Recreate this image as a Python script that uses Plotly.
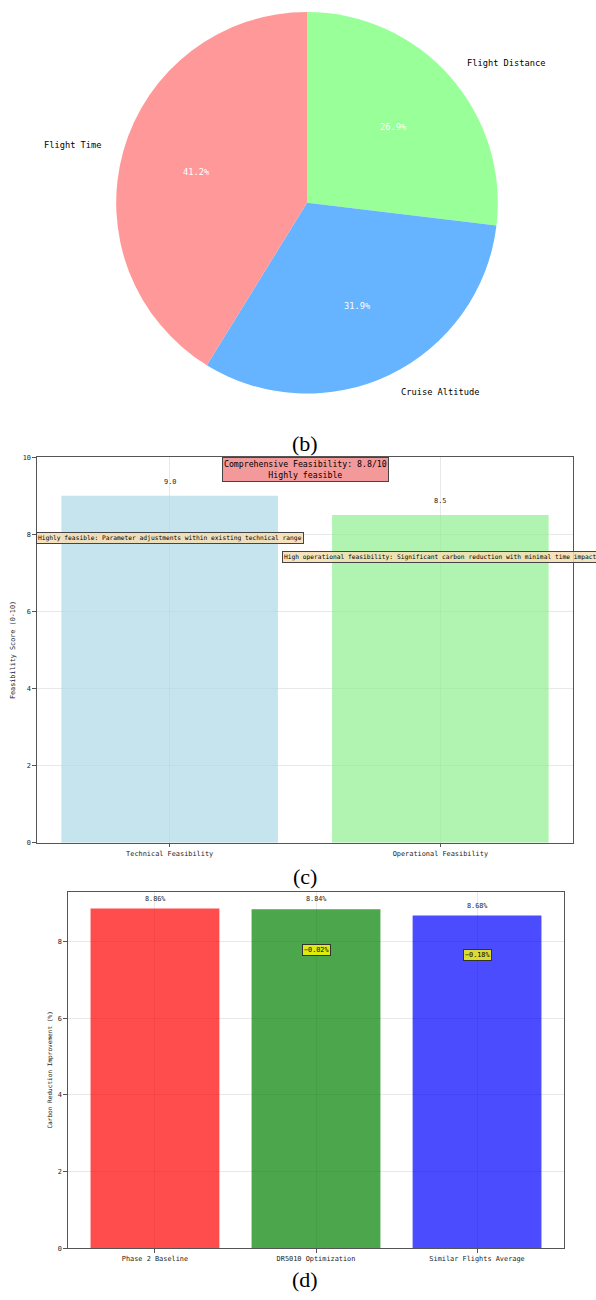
import math
import plotly.graph_objects as go

# ---- data (wedges listed clockwise from 12 o'clock) ----
pie_labels = ["Flight Distance", "Cruise Altitude", "Flight Time"]
pie_values = [26.9, 31.9, 41.2]

feas_categories = ["Technical Feasibility", "Operational Feasibility"]
feas_scores = [9.0, 8.5]
feas_notes = [
    "Highly feasible: Parameter adjustments within existing technical range",
    "High operational feasibility: Significant carbon reduction with minimal time impact",
]
overall_score = 8.8
overall_verdict = "Highly feasible"

carbon_categories = ["Phase 2 Baseline", "DR5010 Optimization", "Similar Flights Average"]
carbon_values = [8.86, 8.84, 8.68]

# ---- styling ----
W, H = 596, 1300
MONO = "DejaVu Sans Mono"
SERIF = "Liberation Serif"
pie_colors = ["#99ff99", "#66b3ff", "#ff9999"]
feas_colors = ["rgba(173,216,230,0.7)", "rgba(144,238,144,0.7)"]
carbon_colors = ["rgba(255,0,0,0.7)", "rgba(0,128,0,0.7)", "rgba(0,0,255,0.7)"]
GRID = "rgba(0,0,0,0.09)"
SPINE = "#555555"
TXT = "#222222"

# pie geometry (pixels)
PIE_CX, PIE_CY, PIE_R = 307, 200, 192


def px_x(x):
    return x / W


def px_y(y):
    return 1 - y / H


fig = go.Figure()

fig.add_trace(go.Pie(
    labels=pie_labels, values=pie_values, sort=False,
    direction="clockwise", rotation=0,
    marker=dict(colors=pie_colors, line=dict(width=0)),
    textinfo="none", hoverinfo="skip", showlegend=False,
    domain=dict(x=[px_x(PIE_CX - PIE_R), px_x(PIE_CX + PIE_R)],
                y=[px_y(PIE_CY + PIE_R), px_y(PIE_CY - PIE_R)]),
))

fig.add_trace(go.Bar(
    x=feas_categories, y=feas_scores, width=0.8,
    marker=dict(color=feas_colors, line=dict(width=0)),
    xaxis="x", yaxis="y", showlegend=False, hoverinfo="skip",
))

fig.add_trace(go.Bar(
    x=carbon_categories, y=carbon_values, width=0.8,
    marker=dict(color=carbon_colors, line=dict(width=0)),
    xaxis="x2", yaxis="y2", showlegend=False, hoverinfo="skip",
))

annotations = []

# pie labels placed along each wedge's mid-angle (clockwise from the top)
total = sum(pie_values)
cum = 0.0
for lab, val in zip(pie_labels, pie_values):
    mid = math.radians(90 - 360 * (cum + val / 2) / total)
    cum += val
    c, s = math.cos(mid), math.sin(mid)
    lx, ly = PIE_CX + 1.1 * PIE_R * c, PIE_CY - 1.1 * PIE_R * s
    annotations.append(dict(
        x=px_x(lx), y=px_y(ly), xref="paper", yref="paper",
        text=lab, showarrow=False,
        xanchor="left" if c > 0 else "right", yanchor="middle",
        font=dict(family=MONO, size=8.7, color="black"),
    ))
    tx, ty = PIE_CX + 0.6 * PIE_R * c, PIE_CY - 0.6 * PIE_R * s
    annotations.append(dict(
        x=px_x(tx), y=px_y(ty), xref="paper", yref="paper",
        text=f"{val / total * 100:.1f}%", showarrow=False,
        xanchor="center", yanchor="middle",
        font=dict(family=MONO, size=8.7, color="white"),
    ))

# feasibility panel labels
for cat, sc, note in zip(feas_categories, feas_scores, feas_notes):
    annotations.append(dict(
        x=cat, y=sc + 0.2, xref="x", yref="y", text=f"{sc:.1f}",
        showarrow=False, yanchor="bottom",
        font=dict(family=MONO, size=6.9, color=TXT),
    ))
    annotations.append(dict(
        x=cat, y=sc - 1.1, xref="x", yref="y", text=note,
        showarrow=False, xanchor="center", yanchor="middle",
        font=dict(family=MONO, size=6.25, color="black"),
        bgcolor="rgba(245,222,179,0.85)", bordercolor="#444",
        borderwidth=1, borderpad=1,
    ))

annotations.append(dict(
    x=0.5, y=1.0, xref="x domain", yref="y domain",
    text=f"Comprehensive Feasibility: {overall_score}/10<br>{overall_verdict}",
    showarrow=False, xanchor="center", yanchor="top",
    font=dict(family=MONO, size=8.2, color="black"),
    bgcolor="rgba(240,128,128,0.8)", bordercolor="#444",
    borderwidth=1, borderpad=1,
))

# carbon panel labels
base = carbon_values[0]
for i, (cat, v) in enumerate(zip(carbon_categories, carbon_values)):
    annotations.append(dict(
        x=cat, y=v + 0.1, xref="x2", yref="y2", text=f"{v:.2f}%",
        showarrow=False, yanchor="bottom",
        font=dict(family=MONO, size=6.8, color=TXT),
    ))
    if i > 0:
        annotations.append(dict(
            x=cat, y=v * 0.88, xref="x2", yref="y2",
            text=f"{v - base:+.2f}%".replace("-", "\u2212"),
            showarrow=False, xanchor="center", yanchor="middle",
            font=dict(family=MONO, size=6.8, color="black"),
            bgcolor="rgba(255,255,0,0.8)", bordercolor="#333",
            borderwidth=1, borderpad=1,
        ))

# panel captions
for cap, yy in [("(b)", 442), ("(c)", 878), ("(d)", 1283)]:
    annotations.append(dict(
        x=px_x(305), y=px_y(yy), xref="paper", yref="paper", text=cap,
        showarrow=False, xanchor="center", yanchor="middle",
        font=dict(family=SERIF, size=22, color="black"),
    ))

axis_common = dict(
    showgrid=True, gridcolor=GRID, gridwidth=1, zeroline=False,
    showline=True, mirror=True, linecolor=SPINE, linewidth=1.2,
    ticks="outside", ticklen=3.5, tickcolor=SPINE, tickwidth=1,
    tickfont=dict(family=MONO, size=6.9, color=TXT),
)

fig.update_layout(
    width=W, height=H,
    margin=dict(l=0, r=0, t=0, b=0),
    paper_bgcolor="white", plot_bgcolor="white",
    showlegend=False,
    annotations=annotations,
    xaxis=dict(axis_common, domain=[px_x(37), px_x(573)], anchor="y",
               range=[-0.49, 1.49]),
    yaxis=dict(axis_common, domain=[px_y(844), px_y(456)], anchor="x",
               range=[0, 10], dtick=2,
               title=dict(text="Feasibility Score (0-10)", standoff=6,
                          font=dict(family=MONO, size=6.8, color=TXT))),
    xaxis2=dict(axis_common, domain=[px_x(68), px_x(564)], anchor="y2",
                range=[-0.54, 2.54]),
    yaxis2=dict(axis_common, domain=[px_y(1252), px_y(893)], anchor="x2",
                range=[0, 9.303], dtick=2,
                title=dict(text="Carbon Reduction Improvement (%)", standoff=4,
                           font=dict(family=MONO, size=6.1, color=TXT))),
)

fig.write_html("out.html")
